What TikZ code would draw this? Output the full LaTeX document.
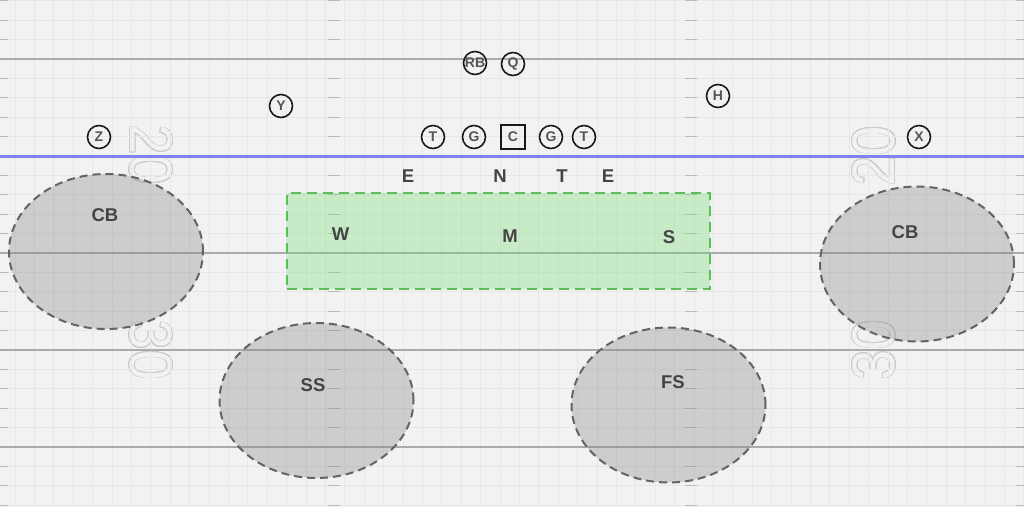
\documentclass[tikz,border=0pt]{standalone}
\usepackage{fontspec}
\setmainfont{Liberation Sans}
\usetikzlibrary{shapes.geometric}
\definecolor{bg}{RGB}{242,242,242}
\definecolor{gridc}{RGB}{231,231,231}
\definecolor{yardc}{RGB}{170,170,170}
\definecolor{losc}{RGB}{128,128,240}
\definecolor{hashc}{RGB}{185,185,185}
\definecolor{numc}{RGB}{203,203,203}
\definecolor{zonefill}{RGB}{136,136,136}
\definecolor{zonedraw}{RGB}{100,100,100}
\definecolor{boxdraw}{RGB}{90,190,90}
\definecolor{boxfill}{RGB}{120,220,120}
\definecolor{labc}{RGB}{68,68,68}
\definecolor{plc}{RGB}{85,85,85}
\tikzset{
  gridline/.style={draw=gridc, line width=0.8},
  hashmark/.style={draw=hashc, line width=1.2},
  yardline/.style={draw=yardc, line width=1.6},
  losline/.style={draw=losc, line width=3},
  yardnum/.style={font=\fontsize{60}{60}\selectfont, inner sep=0pt},
  zone/.style={ellipse, draw=zonedraw, line width=2, dash pattern=on 8pt off 5pt,
    fill=zonefill, fill opacity=0.35, draw opacity=1, minimum width=194, minimum height=155, inner sep=0pt},
  zonebox/.style={rectangle, draw=boxdraw, line width=2.5, dash pattern=on 10pt off 6pt,
    fill=boxfill, fill opacity=0.35, draw opacity=1, minimum width=423, minimum height=96, inner sep=0pt},
  deflabel/.style={font=\fontsize{18.5}{18.5}\selectfont\bfseries, text=labc, inner sep=0pt},
  player/.style={circle, draw=black!90, line width=1.6, minimum size=23, inner sep=0pt,
    font=\fontsize{14}{14}\selectfont\bfseries, text=plc},
  centerbox/.style={rectangle, draw=black!90, line width=1.6, minimum size=24, inner sep=0pt,
    font=\fontsize{14}{14}\selectfont\bfseries, text=plc}
}
\begin{document}
\begin{tikzpicture}[x=1pt, y=-1pt]
\fill[bg] (0,0) rectangle (1024,507);
\useasboundingbox (0,0) rectangle (1024,507);

% yard numbers (outlined)
\foreach \a in {0,30,...,330}{
  \node[yardnum, text=numc, rotate=-90, xscale=0.9] (n20l-\a) at ([shift={(\a:0.9)}]151,155) {20};
  \node[yardnum, text=numc, rotate=-90, xscale=0.9] (n30l-\a) at ([shift={(\a:0.9)}]151,350) {30};
  \node[yardnum, text=numc, rotate=90, xscale=0.9] (n20r-\a) at ([shift={(\a:0.9)}]874,156) {20};
  \node[yardnum, text=numc, rotate=90, xscale=0.9] (n30r-\a) at ([shift={(\a:0.9)}]874,350) {30};
}
\node[yardnum, text=bg, rotate=-90, xscale=0.9] (n20l) at (151,155) {20};
\node[yardnum, text=bg, rotate=-90, xscale=0.9] (n30l) at (151,350) {30};
\node[yardnum, text=bg, rotate=90, xscale=0.9] (n20r) at (874,156) {20};
\node[yardnum, text=bg, rotate=90, xscale=0.9] (n30r) at (874,350) {30};

% grid
\foreach \i in {0,...,52}{
  \draw[gridline] ({15+19.4*\i},0) -- ({15+19.4*\i},507);
}
\foreach \j in {-3,...,23}{
  \draw[gridline] (0,{59+19.4*\j}) -- (1024,{59+19.4*\j});
}
% hash marks
\foreach \j in {-3,...,23}{
  \draw[hashmark] (0,{59+19.4*\j}) -- (8,{59+19.4*\j});
  \draw[hashmark] (328,{59+19.4*\j}) -- (340,{59+19.4*\j});
  \draw[hashmark] (685,{59+19.4*\j}) -- (697,{59+19.4*\j});
  \draw[hashmark] (1016,{59+19.4*\j}) -- (1024,{59+19.4*\j});
}
% yard lines
\foreach \y in {59,253,350,447}{
  \draw[yardline] (0,\y) -- (1024,\y);
}
\draw[losline] (0,156) -- (1024,156);

% zones
\node[zone] (cbzl) at (106,251.5) {};
\node[zone] (cbzr) at (917,264) {};
\node[zone] (sszone) at (316.5,400.5) {};
\node[zone] (fszone) at (668.5,405) {};
\node[zonebox] (lbzone) at (498.5,241) {};

% defensive labels
\node[deflabel] (cbl) at (105,215) {CB};
\node[deflabel] (cbr) at (905,232) {CB};
\node[deflabel] (ss) at (313,385) {SS};
\node[deflabel] (fs) at (673,382) {FS};
\node[deflabel] (w) at (340.5,234) {W};
\node[deflabel] (m) at (510,236) {M};
\node[deflabel] (s) at (669,237) {S};
\node[deflabel] (el) at (408,176) {E};
\node[deflabel] (n) at (500,176) {N};
\node[deflabel] (t) at (562,176) {T};
\node[deflabel] (er) at (608,176) {E};

% offense
\node[player] (rb) at (475,63) {RB};
\node[player] (q) at (513,64) {Q};
\node[player] (y) at (281,106) {Y};
\node[player] (h) at (718,96) {H};
\node[player] (z) at (99,137) {Z};
\node[player] (x) at (919,137) {X};
\node[player] (lt) at (433,137) {T};
\node[player] (lg) at (474,137) {G};
\node[centerbox] (c) at (513,137) {C};
\node[player] (rg) at (551,137) {G};
\node[player] (rt) at (584,137) {T};
\end{tikzpicture}
\end{document}
